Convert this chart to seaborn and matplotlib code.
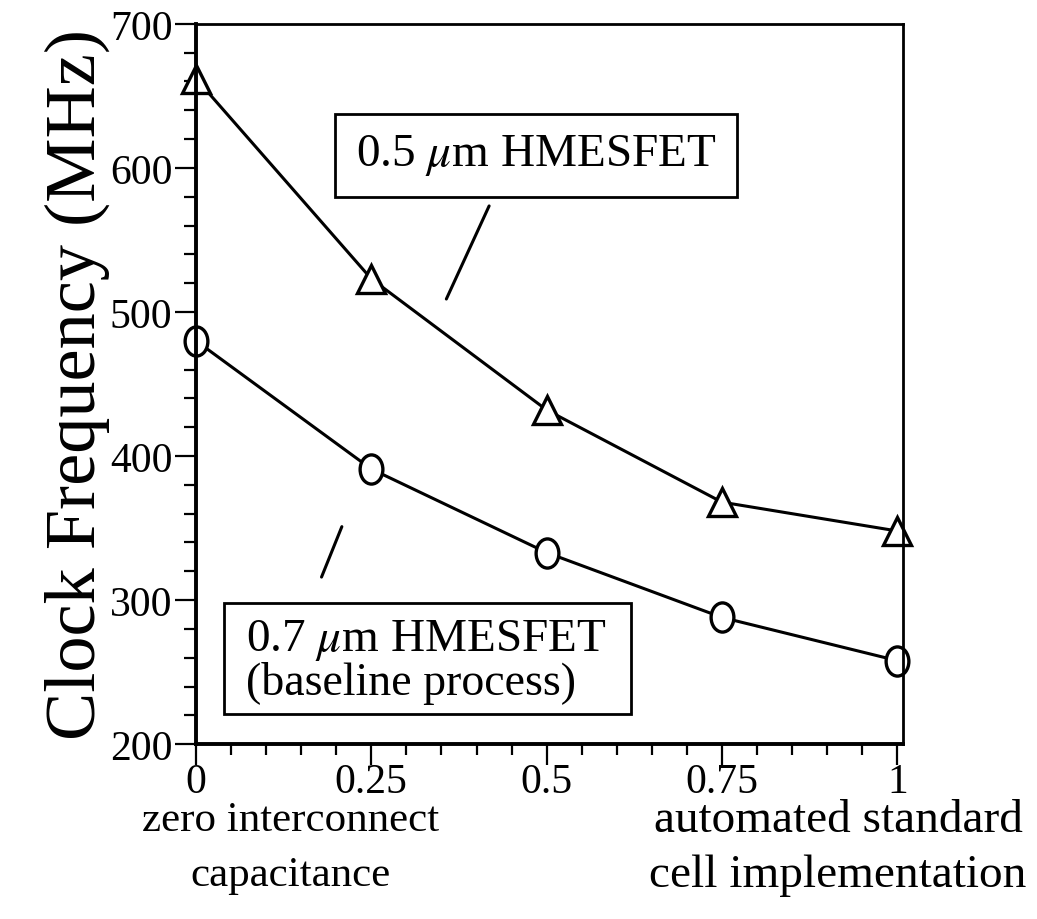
import matplotlib
matplotlib.use("Agg")
import matplotlib.pyplot as plt
import seaborn as sns
import pandas as pd
from matplotlib.patches import Rectangle
from matplotlib.path import Path
from matplotlib.transforms import Affine2D
from matplotlib.ticker import MultipleLocator, FixedLocator

# interconnect capacitance fraction (0 = none, 1 = standard cell layout)
x_frac = [0, 0.25, 0.5, 0.75, 1]
# clock frequency in MHz
freq_05um = [662, 523, 432, 368, 348]
freq_07um = [480, 391, 333, 288, 258]

xtick_vals = [0, 0.25, 0.5, 0.75, 1]
xtick_labels = ["0", "0.25", "0.5", "0.75", "1"]
ytick_vals = [200, 300, 400, 500, 600, 700]

sns.set_theme(style="ticks")
plt.rcParams["font.family"] = ["Liberation Serif", "DejaVu Serif"]
plt.rcParams["mathtext.fontset"] = "stix"
plt.rcParams["text.color"] = "black"
plt.rcParams["axes.labelcolor"] = "black"
plt.rcParams["xtick.color"] = "black"
plt.rcParams["ytick.color"] = "black"

# the circles in the scan look like a tall letter O
oval = Path.unit_circle().transformed(Affine2D().scale(0.78, 1.0))

df05 = pd.DataFrame({"x": x_frac, "f": freq_05um})
df07 = pd.DataFrame({"x": x_frac, "f": freq_07um})

fig = plt.figure(figsize=(10.37, 9.2), dpi=100)
ax = fig.add_axes([0.189, 0.19, 0.682, 0.783])

sns.lineplot(data=df05, x="x", y="f", ax=ax, color="black", lw=2.2,
             marker="^", markersize=20, markerfacecolor="white",
             markeredgecolor="black", markeredgewidth=2.4, clip_on=False)
sns.lineplot(data=df07, x="x", y="f", ax=ax, color="black", lw=2.2,
             marker=oval, markersize=21, markerfacecolor="white",
             markeredgecolor="black", markeredgewidth=2.4, clip_on=False)

ax.set_xlim(0, 1.0085)
ax.set_ylim(200, 700)
ax.xaxis.set_major_locator(FixedLocator(xtick_vals))
ax.set_xticklabels(xtick_labels)
ax.xaxis.set_minor_locator(MultipleLocator(0.05))
ax.set_yticks(ytick_vals)
ax.yaxis.set_minor_locator(MultipleLocator(20))
ax.tick_params(axis="both", which="major", labelsize=30, width=1.6,
               direction="out")
ax.tick_params(axis="y", which="major", length=15, pad=2)
ax.tick_params(axis="y", which="minor", length=9, width=1.6)
ax.tick_params(axis="x", which="major", length=15, pad=-2)
ax.tick_params(axis="x", which="minor", length=8, width=1.6)

for side in ["left", "bottom"]:
    ax.spines[side].set_linewidth(2.8)
for side in ["top", "right"]:
    ax.spines[side].set_linewidth(2.0)
for s in ax.spines.values():
    s.set_color("black")

ax.set_xlabel("")
ax.set_ylabel("Clock Frequency (MHz)", fontsize=52, labelpad=0)

# labels boxes and their leader lines
ax.add_patch(Rectangle((0.198, 580), 0.574, 57.5, fill=False, lw=2.0,
                       ec="black", zorder=3))
ax.text(0.485, 609, r"0.5 $\mathit{\mu}$m HMESFET", fontsize=34,
        ha="center", va="center")
ax.plot([0.418, 0.357], [573.6, 509], color="black", lw=2.2)

ax.add_patch(Rectangle((0.040, 221), 0.580, 77, fill=False, lw=2.0,
                       ec="black", zorder=3))
ax.text(0.072, 273, r"0.7 $\mathit{\mu}$m HMESFET", fontsize=34,
        ha="left", va="center")
ax.text(0.072, 243, "(baseline process)", fontsize=33,
        ha="left", va="center")
ax.plot([0.208, 0.179], [351, 316], color="black", lw=2.2)

# captions for the two ends of the x axis
fig.text(0.28, 0.108, "zero interconnect", fontsize=31, ha="center", va="center")
fig.text(0.28, 0.048, "capacitance", fontsize=31, ha="center", va="center")
fig.text(0.986, 0.108, "automated standard", fontsize=34, ha="right", va="center")
fig.text(0.99, 0.048, "cell implementation", fontsize=34, ha="right", va="center")

fig.savefig("out.png", dpi=100, facecolor="white")
